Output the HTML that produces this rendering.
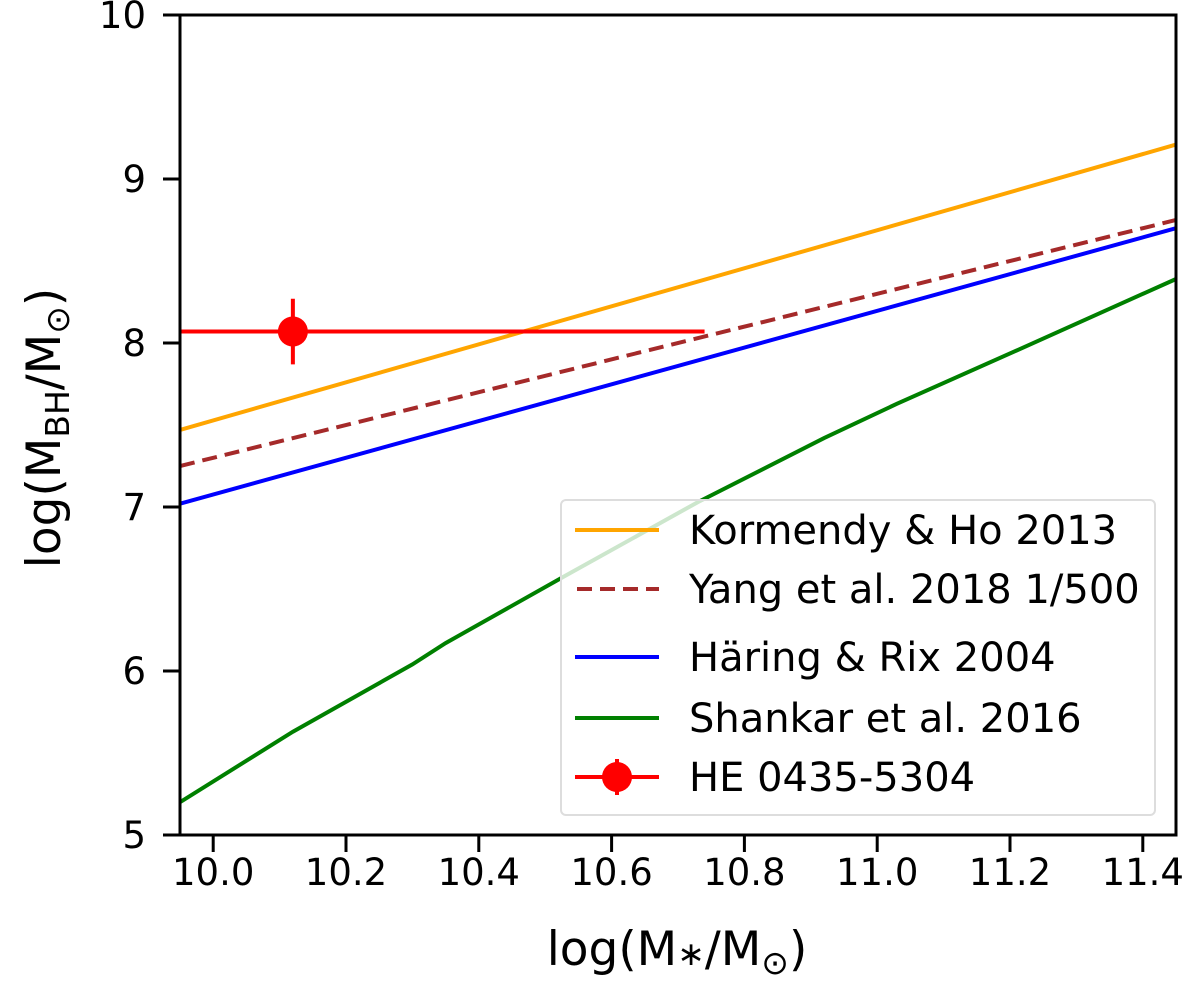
<!DOCTYPE html>
<html><head><meta charset="utf-8"><style>
html,body{margin:0;padding:0;background:#fff;}
svg{display:block;font-family:"DejaVu Sans","Liberation Sans",sans-serif;}
</style></head><body>
<svg id="chart" width="1200" height="983" viewBox="0 0 1200 983"></svg>
<script>
const xTicks = [10.0, 10.2, 10.4, 10.6, 10.8, 11.0, 11.2, 11.4];
const xTickLabels = ["10.0","10.2","10.4","10.6","10.8","11.0","11.2","11.4"];
const yTicks = [5, 6, 7, 8, 9, 10];
const yTickLabels = ["5","6","7","8","9","10"];
const kormendyX = [9.95, 11.45];
const kormendyY = [7.47, 9.21];
const yangX = [9.95, 11.45];
const yangY = [7.25, 8.75];
const haringX = [9.95, 11.45];
const haringY = [7.02, 8.70];
const shankarX = [9.95, 10.12, 10.30, 10.35, 10.53, 10.73, 10.92, 11.03, 11.23, 11.45];
const shankarY = [5.20, 5.63, 6.04, 6.17, 6.58, 7.03, 7.42, 7.63, 7.99, 8.39];
const pointX = [10.12];
const pointY = [8.07];
const pointXErr = [0.62];
const pointYErr = [0.20];

const NS = "http://www.w3.org/2000/svg";
const svg = document.getElementById('chart');
const L = 180, R = 1176, T = 15, B = 835;
const xmin = 9.95, xmax = 11.45, ymin = 5, ymax = 10;
function sx(v){ return L + (v - xmin) / (xmax - xmin) * (R - L); }
function sy(v){ return B - (v - ymin) / (ymax - ymin) * (B - T); }
function mk(tag, attrs, parent){
  const e = document.createElementNS(NS, tag);
  for (const k in attrs) e.setAttribute(k, attrs[k]);
  (parent || svg).appendChild(e);
  return e;
}
const defs = mk('defs', {});
const cp = mk('clipPath', {id:'clip'}, defs);
mk('rect', {x:L, y:T, width:R-L, height:B-T}, cp);
const plot = mk('g', {'clip-path':'url(#clip)'});



function series(xs, ys, color, name, dash){
  const pts = xs.map((x,i)=> sx(x).toFixed(1) + ',' + sy(ys[i]).toFixed(1)).join(' ');
  const p = mk('polyline', {points:pts, fill:'none', stroke:color, 'stroke-width':4}, plot);
  if (dash) p.setAttribute('stroke-dasharray', dash);
  
  
}
series(kormendyX, kormendyY, '#ffa500', 'kormendy-ho-2013-line');
series(yangX, yangY, '#a52a2a', 'yang-2018-line', '15,8');
series(haringX, haringY, '#0000ff', 'haring-rix-2004-line');
series(shankarX, shankarY, '#008000', 'shankar-2016-line');

pointX.forEach((px, i) => {
  const g = mk('g', {}, plot);
  
  
  mk('line', {x1:sx(px - pointXErr[i]), x2:sx(px + pointXErr[i]), y1:sy(pointY[i]), y2:sy(pointY[i]), stroke:'#ff0000', 'stroke-width':4}, g);
  mk('line', {x1:sx(px), x2:sx(px), y1:sy(pointY[i] - pointYErr[i]), y2:sy(pointY[i] + pointYErr[i]), stroke:'#ff0000', 'stroke-width':4}, g);
  mk('circle', {cx:sx(px), cy:sy(pointY[i]), r:15, fill:'#ff0000'}, g);
});

const frame = mk('rect', {x:L, y:T, width:R-L, height:B-T, fill:'none', stroke:'#000', 'stroke-width':3});



xTicks.forEach((v, i) => {
  mk('line', {x1:sx(v), x2:sx(v), y1:B, y2:B+17, stroke:'#000', 'stroke-width':3});
  const t = mk('text', {x:sx(v), y:B+50, 'font-size':37, 'text-anchor':'middle', fill:'#000'});
  t.textContent = xTickLabels[i];
  
  
});
yTicks.forEach((v, i) => {
  mk('line', {x1:L-17, x2:L, y1:sy(v), y2:sy(v), stroke:'#000', 'stroke-width':3});
  const t = mk('text', {x:L-34, y:sy(v)+13, 'font-size':37, 'text-anchor':'end', fill:'#000'});
  t.textContent = yTickLabels[i];
  
  
});
</script>
<svg width="1200" height="983" style="position:absolute;left:0;top:0;font-family:'DejaVu Sans','Liberation Sans',sans-serif">
  <text x="677" y="965" font-size="47" text-anchor="middle">log(M<tspan font-size="33">∗</tspan>/M<tspan font-size="33" dy="9">⊙</tspan><tspan dy="-9">)</tspan></text>
  <text transform="translate(60,428) rotate(-90)" font-size="47" text-anchor="middle">log(M<tspan font-size="33" dy="9">BH</tspan><tspan dy="-9">/M</tspan><tspan font-size="33" dy="9">⊙</tspan><tspan dy="-9">)</tspan></text>
  <g>
    <rect x="561" y="500" width="594" height="315" rx="5" fill="#fff" fill-opacity="0.8" stroke="#ddd" stroke-width="2"/>
    <line x1="575" x2="659" y1="530" y2="530" stroke="#ffa500" stroke-width="4"/>
    <text x="689" y="544" font-size="40">Kormendy &amp; Ho 2013</text>
    <line x1="577" x2="659" y1="589" y2="589" stroke="#a52a2a" stroke-width="4" stroke-dasharray="15,8"/>
    <text x="689" y="603" font-size="40">Yang et al. 2018 1/500</text>
    <line x1="575" x2="659" y1="657" y2="657" stroke="#0000ff" stroke-width="4"/>
    <text x="689" y="671" font-size="40">Häring &amp; Rix 2004</text>
    <line x1="575" x2="659" y1="718" y2="718" stroke="#008000" stroke-width="4"/>
    <text x="689" y="732" font-size="40">Shankar et al. 2016</text>
    <line x1="575" x2="659" y1="777" y2="777" stroke="#ff0000" stroke-width="4"/>
    <line x1="617" x2="617" y1="759" y2="795" stroke="#ff0000" stroke-width="4"/>
    <circle cx="617" cy="777" r="15" fill="#ff0000"/>
    <text x="689" y="791" font-size="40">HE 0435-5304</text>
  </g>
</svg>
</body></html>
